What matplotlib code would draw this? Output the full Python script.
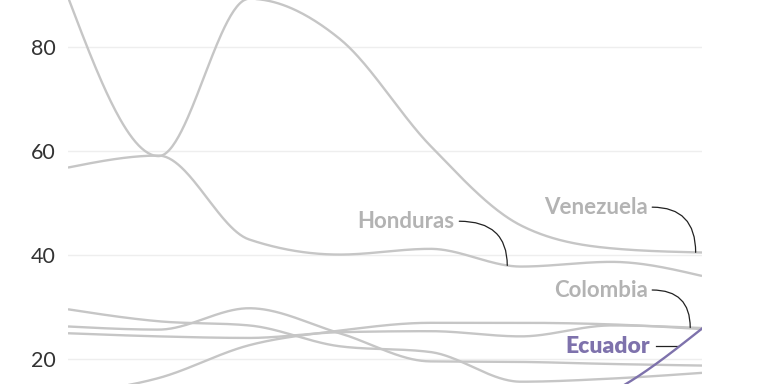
import numpy as np
import matplotlib
matplotlib.use('Agg')
import matplotlib.pyplot as plt

years = [2015, 2016, 2017, 2018, 2019, 2020, 2021, 2022]
venezuela = [89.5, 59.0, 89.2, 81.5, 61.0, 45.7, 41.3, 40.5]
honduras = [56.8, 59.1, 43.0, 40.1, 41.2, 37.8, 38.7, 36.0]
colombia = [25.0, 24.4, 24.1, 25.2, 25.4, 24.4, 26.5, 26.0]
guatemala = [29.6, 27.3, 26.5, 22.5, 21.4, 15.7, 16.3, 17.4]
mexico = [13.3, 16.4, 22.7, 25.5, 27.0, 27.0, 26.7, 25.8]
other = [26.3, 25.7, 29.8, 25.0, 19.6, 19.5, 19.1, 18.8]
ecuador = [6.4, 5.8, 5.8, 5.7, 6.8, 7.8, 13.7, 25.9]

y_ticks = [20, 40, 60, 80]

GREY = '#c6c6c6'
LABEL_GREY = '#b3b3b3'
PURPLE = '#7e72ac'


def monotone(x, y, n=60):
    # monotone cubic (Steffen), same idea as d3.curveMonotoneX
    x = np.asarray(x, float)
    y = np.asarray(y, float)
    h = np.diff(x)
    s = np.diff(y) / h
    t = np.zeros_like(y)
    for i in range(1, len(y) - 1):
        p = (s[i - 1] * h[i] + s[i] * h[i - 1]) / (h[i - 1] + h[i])
        t[i] = (np.sign(s[i - 1]) + np.sign(s[i])) * min(abs(s[i - 1]), abs(s[i]), 0.5 * abs(p))
    t[0] = (3 * s[0] - t[1]) / 2
    t[-1] = (3 * s[-1] - t[-2]) / 2
    xs, ys = [], []
    for i in range(len(h)):
        u = np.linspace(0, 1, n)
        h00 = 2 * u**3 - 3 * u**2 + 1
        h10 = u**3 - 2 * u**2 + u
        h01 = -2 * u**3 + 3 * u**2
        h11 = u**3 - u**2
        xs.append(x[i] + u * h[i])
        ys.append(h00 * y[i] + h10 * h[i] * t[i] + h01 * y[i + 1] + h11 * h[i] * t[i + 1])
    return np.concatenate(xs), np.concatenate(ys)


fig = plt.figure(figsize=(7.68, 3.84), dpi=100)
ax = fig.add_axes([68 / 768, 0, 634 / 768, 1])

idx = np.arange(len(years))
curves = {}
for name, vals in [('guatemala', guatemala), ('other', other), ('mexico', mexico),
                   ('colombia', colombia), ('honduras', honduras), ('venezuela', venezuela)]:
    sx, sy = monotone(idx, vals)
    curves[name] = (sx, sy)
    ax.plot(sx, sy, color=GREY, lw=1.7, solid_capstyle='butt', zorder=2)

ex, ey = monotone(idx, ecuador)
ax.plot(ex, ey, color=PURPLE, lw=1.7, zorder=3)

ax.set_xlim(0, 7)
ax.set_ylim(15.26, 88.96)
ax.set_yticks(y_ticks)
ax.set_yticklabels([str(v) for v in y_ticks], fontsize=15.5, color='#333333',
                   family='Lato', fontweight='normal')
ax.set_xticks([])
ax.tick_params(axis='y', length=0, pad=9)
ax.grid(axis='y', color='#eeeeee', lw=1)
ax.set_axisbelow(True)
for sp in ax.spines.values():
    sp.set_visible(False)


def on_curve(name, xv):
    sx, sy = curves[name]
    return float(np.interp(xv, sx, sy))


def label(text, tx, ty, end, color=LABEL_GREY):
    ax.text(tx, ty, text, ha='right', va='center', fontsize=16, color=color,
            family='Lato', fontweight='bold')
    ax.annotate('', xy=end, xytext=(tx + 0.05, ty),
                arrowprops=dict(arrowstyle='-', color='#222222', lw=0.9,
                                connectionstyle='angle3,angleA=0,angleB=90',
                                shrinkA=0, shrinkB=0))


label('Honduras', 4.27, 46.5, (4.85, on_curve('honduras', 4.85)))
label('Venezuela', 6.40, 49.2, (6.93, on_curve('venezuela', 6.93)))
label('Colombia', 6.40, 33.3, (6.87, on_curve('colombia', 6.87)))

ax.text(6.43, 22.5, 'Ecuador', ha='right', va='center', fontsize=16.5, color=PURPLE,
        family='Lato', fontweight='heavy')
ax.plot([6.49, 6.73], [22.5, 22.5], color='#222222', lw=0.9)

fig.savefig('out.png', dpi=100)
